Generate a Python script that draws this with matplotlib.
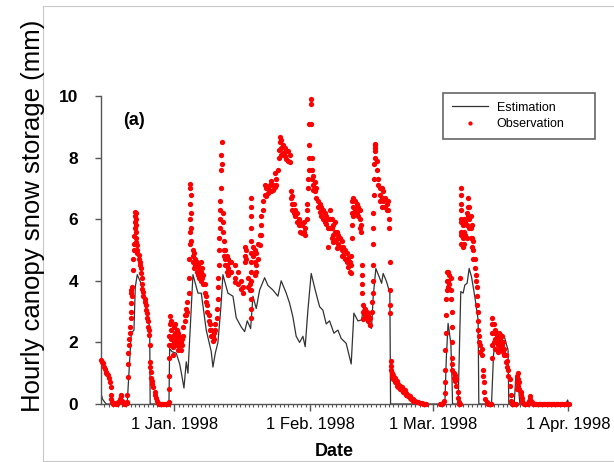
import numpy as np
import matplotlib.pyplot as plt
import matplotlib.dates as mdates
from matplotlib.patches import Rectangle
from datetime import datetime

plt.rcParams['font.family'] = ['Liberation Sans', 'DejaVu Sans']

# days counted from 1 Jan 1998 00:00
start_day = -16.85
end_day = 90.3

# estimated storage (line)
est_day = [-16.85, -16.7, -16.4, -15.6, -10.8, -10.2, -9.86, -9.25, -8.95, -8.5, -7.58, -6.44, -5.66, -5.55,
           -1.26, -1.1, -0.57, 0.41, 1.19, 1.71, 2.17, 2.69, 3.08, 4.22, 5.37, 6.12, 7.26, 8.4, 8.79, 9.32,
           9.93, 10.55, 11.07, 12.21, 13.36, 14.11, 15.25, 16.03, 16.62, 17.4, 17.92, 18.68, 19.45, 20.59,
           21.35, 22.49, 23.63, 24.38, 25.53, 26.3, 27.05, 27.8, 28.58, 29.34, 29.86, 30.48, 31.23, 32.15,
           33.15, 33.9, 34.66, 35.43, 36.42, 37.33, 38.08, 39.22, 40.37, 40.98, 41.9, 42.74, 43.33, 43.88,
           44.47, 45.02, 45.39, 46.0, 46.76, 47.31, 47.67, 48.45, 49.2, 49.36, 61.76, 62.1, 62.5, 63.13,
           63.4, 63.52, 64.79, 65.4, 65.94, 66.32, 66.85, 67.31, 67.85, 68.61, 69.36, 69.52, 72.42, 72.88,
           73.4, 73.93, 74.7, 75.46, 76.2, 76.37, 77.6, 77.97, 78.5, 78.9, 80.7, 81.16, 81.6, 89.4, 89.8, 90.1]
est_val = [0.25, 0.3, 0.15, 0, 0, 1.5, 2.3, 2.4, 3.8, 4.2, 3.9, 3.05, 2.5, 0,
           0, 1.8, 1.7, 1.65, 1.3, 0.9, 0.52, 1.37, 1.0, 4.2, 3.6, 3.6, 2.4, 1.7, 1.2, 1.65,
           2.0, 3.05, 4.2, 3.6, 3.5, 2.8, 2.5, 2.35, 2.7, 2.45, 3.5, 3.1, 3.7, 4.1,
           3.85, 3.7, 3.5, 4.0, 3.6, 3.27, 2.83, 2.2, 2.0, 2.2, 1.86, 3.05, 4.24, 3.7,
           3.16, 3.05, 2.6, 2.7, 2.3, 2.4, 2.13, 1.97, 1.3, 2.95, 2.7, 2.73, 3.27, 2.83,
           2.5, 2.46, 3.48, 4.4, 4.13, 3.92, 4.24, 3.97, 3.6, 0, 0, 1.5, 2.62, 1.97,
           0.8, 0, 0, 3.65, 3.6, 3.86, 3.92, 4.4, 4.13, 3.48, 2.73, 0, 0, 1.6,
           2.2, 2.13, 2.3, 2.13, 1.75, 0, 0, 0.89, 0.67, 0, 0, 0.26, 0, 0, 0.13, 0]

# observed storage (dots), several readings per time column
obs_dec_day = [-16.7, -16.5, -16.32, -16.1, -15.94, -15.7, -15.56, -15.3, -15.18, -14.95, -14.8, -14.6,
               -14.5, -14.42, -14.2, -14.0, -13.7, -13.4, -13.1, -12.8, -12.5, -12.3, -12.14, -12.0,
               -11.8, -11.5, -11.2, -10.9, -10.77, -10.62, -10.39, -10.24, -10.0, -9.86, -9.63, -9.47,
               -9.24, -9.09, -8.86, -8.71, -8.49, -8.18, -7.95, -7.72, -7.42, -7.11, -6.81, -6.58,
               -6.35, -6.05, -5.82, -5.67, -5.52, -5.29, -5.06, -4.83, -4.53, -4.3, -4.07, -3.77,
               -3.5, -3.2, -2.9, -2.6, -2.3, -2.0, -1.7, -1.48, -1.33, -1.18, -1.03, -0.72, -0.42, -0.11]
obs_dec_val = [[1.43], [1.38], [1.32], [1.2], [1.15], [1.05], [1.0], [0.98], [0.95], [0.85], [0.7], [0.55],
               [0.3], [0.15], [0.05], [0], [0.02], [0], [0], [0.05], [0.15], [0.3], [0.25], [0.1],
               [0.05], [0], [0], [0.02], [0.05, 0.3], [0.89, 1.3, 1.65], [1.9, 2.1], [2.3, 2.5], [2.8, 3.0],
               [3.27, 3.6, 3.7], [3.5, 3.8], [4.35, 4.7],
               [5.0, 5.2, 5.45], [5.7, 5.9, 6.1, 6.25], [6.2, 6.0, 5.8], [5.6, 5.4, 5.25], [5.15, 5.0, 4.9],
               [4.85, 4.7], [4.6, 4.5], [4.4, 4.25], [4.1, 3.9, 3.75], [3.65, 3.5], [3.4, 3.3], [3.2, 3.05],
               [2.95, 2.8], [2.7, 2.5], [2.4, 2.25], [1.9], [1.35, 1.2], [1.05, 0.85], [0.75, 0.65], [0.55],
               [0.4, 0.3], [0.2], [0.1], [0.02],
               [0], [0], [0], [0], [0], [0], [0], [0], [0.05, 0.5, 0.9], [1.5, 1.9, 2.2], [2.6, 2.85],
               [2.7, 2.4, 2.1, 1.9], [2.2, 1.85, 1.6], [2.5, 2.2, 2.0]]

obs_jan_day = [0.19, 0.5, 0.8, 1.11, 1.41, 1.71, 2.02, 2.32, 2.63, 2.93, 3.38, 3.61, 3.84, 4.14, 4.45,
               4.75, 5.06, 5.37, 5.67, 5.98, 6.28, 6.59, 6.89, 7.2, 7.5, 7.81, 8.11, 8.41, 8.72, 9.02,
               9.32, 9.63, 9.93, 10.24, 10.47, 10.69, 10.84, 11.07, 11.3, 11.6, 11.91, 12.21, 12.59,
               12.97, 13.73, 14.49, 15.25, 15.63, 16.02, 16.4, 16.78, 17.16, 17.54, 17.92, 18.3, 18.68,
               19.06, 19.44, 19.82, 20.2, 20.58, 20.96, 21.34, 21.72, 22.1, 22.48, 22.86, 23.24, 23.63,
               23.85, 24.16, 24.39, 24.77, 25.15, 25.53, 25.91, 26.29, 26.52, 26.82, 27.2, 27.58, 27.96,
               28.34, 28.72, 29.1, 29.48, 29.87, 30.17, 30.48, 30.78]
obs_jan_val = [[2.6, 2.3, 2.05], [2.4, 2.15, 1.9], [2.3, 2.0, 1.75], [2.2, 1.9], [2.0, 1.75], [2.1, 1.9],
               [2.5, 2.2], [2.9, 2.7], [3.1, 2.9], [3.3, 3.0], [3.6, 4.1, 4.7],
               [5.2, 5.6, 6.0, 6.5, 7.0, 7.15], [6.8, 6.2, 5.7, 5.3], [5.0, 4.8, 4.6], [4.9, 4.6, 4.4],
               [4.7, 4.5], [4.6, 4.3], [4.5, 4.2], [4.4, 4.1], [4.6, 4.3, 4.0], [4.4, 4.1], [4.2, 3.9],
               [3.9, 3.6], [3.5, 3.3], [3.2, 3.0], [2.9, 2.7], [2.6, 2.4], [2.4, 2.2], [2.2, 2.05],
               [2.1, 2.3], [2.4, 2.6], [2.8, 3.1], [3.4, 3.8, 4.1], [4.5, 5.0, 5.4], [5.7, 6.0, 6.3, 6.6],
               [7.0, 7.6, 8.1], [8.5, 7.8], [6.2, 5.9, 5.6], [5.3, 5.0, 4.8], [5.0, 4.7, 4.5],
               [4.8, 4.5, 4.3], [4.7, 4.4, 4.2], [4.6, 4.3],
               [4.6, 4.3], [4.5, 4.1, 3.95], [4.3, 3.9], [4.0, 3.75], [3.8, 3.6], [5.1, 4.8, 4.6],
               [5.0, 4.7], [4.1, 3.8], [3.9, 3.7],
               [2.8, 3.1, 3.4, 3.7, 4.0, 4.3, 4.6, 4.9, 5.3, 5.7, 6.1, 6.4, 6.7],
               [5.1, 4.8], [5.0, 4.6, 4.2], [4.9, 4.5, 4.3], [5.2, 4.7], [5.5, 5.15], [6.1, 5.8, 5.5],
               [6.6, 6.3], [7.1, 6.8], [7.0, 6.75], [7.0, 6.85], [7.1, 6.9], [7.25, 6.9], [7.1, 6.95],
               [7.5, 7.05], [7.3, 7.1], [7.6], [8.0, 8.25], [8.68, 8.5], [8.57, 8.3, 8.1], [8.4, 8.15],
               [8.3, 8.05], [8.2, 7.95], [8.2, 7.9], [8.1, 7.85], [6.9, 6.7], [6.75, 6.5, 6.3],
               [6.5, 6.2], [6.3, 6.1], [6.2, 5.9],
               [6.0, 5.8], [5.9, 5.6], [5.8, 5.55], [5.9, 5.6], [5.7, 5.5], [6.3, 6.5, 6.0], [7.0, 7.3],
               [7.6, 8.0, 8.4, 9.1]]

obs_feb_day = [31.08, 31.31, 31.62, 32.0, 32.38, 32.76, 33.14, 33.52, 33.9, 34.28, 34.66, 35.04, 35.5,
               35.88, 36.26, 36.64, 37.02, 37.4, 37.78, 38.16, 38.54, 38.92, 39.3, 39.69, 40.07, 40.3,
               40.52, 40.83, 41.21, 41.59, 41.97, 42.35, 42.65, 42.81, 43.11, 43.49, 43.87, 44.25, 44.63,
               45.01, 45.24, 45.39, 45.55, 45.7, 45.92, 46.23, 46.53, 46.91, 47.3, 47.68, 48.06, 48.44,
               48.82, 49.05, 49.2, 49.35, 49.66, 49.96, 50.34, 50.72, 51.1, 51.48, 51.86, 52.24, 52.62,
               53.0, 53.38, 53.76, 54.14, 54.53, 54.91, 55.29, 55.67, 56.05, 56.43, 56.81, 57.19, 57.5]
obs_feb_val = [[9.9, 9.75, 9.1], [8.0, 7.6, 7.3], [7.4, 7.1, 6.95], [7.2, 6.9], [7.0, 6.7], [6.6, 6.4],
               [6.5, 6.25], [6.4, 6.1], [6.3, 6.0], [6.2, 5.9], [6.1, 5.85], [6.0, 5.7, 5.1],
               [6.3, 6.0, 5.7], [6.0, 5.7, 5.4], [5.8, 5.5, 5.25], [5.9, 5.6, 5.3], [5.6, 5.35, 5.05],
               [5.5, 5.2], [5.4, 5.1], [5.3, 5.0, 4.8], [5.1, 4.85], [5.0, 4.7], [4.9, 4.6], [4.75, 4.45],
               [4.6, 4.3], [4.5, 4.25, 4.8], [5.4, 5.8, 6.2, 6.6], [6.7, 6.4, 6.1], [6.6, 6.3], [6.5, 6.2],
               [6.4, 6.1], [6.3, 6.0, 5.7], [5.6, 5.8], [4.5, 4.2, 3.9, 3.6], [3.2, 3.0, 2.75], [3.1, 2.9],
               [3.0, 2.8], [2.9, 2.7], [2.8, 2.55], [3.0, 3.3], [3.6, 4.0, 4.5, 5.2], [5.7, 6.2],
               [6.8, 7.3, 7.8], [8.2, 8.4], [8.45, 8.3, 8.0], [7.9, 7.6], [7.3, 7.1], [7.0, 6.8, 6.6],
               [7.0, 6.7, 6.4], [6.9, 6.6], [6.7, 6.4], [6.5, 6.3], [6.6, 6.3], [6.0, 5.7],
               [4.6, 3.7, 3.2, 2.95], [1.4, 1.25, 1.1], [1.0, 0.9], [0.95, 0.8], [0.85, 0.7], [0.75, 0.6],
               [0.65, 0.55], [0.6, 0.5], [0.55, 0.45], [0.5, 0.4], [0.45, 0.35], [0.35, 0.3], [0.3, 0.25],
               [0.25, 0.2], [0.2, 0.15], [0.15, 0.1], [0.1], [0.08], [0.05], [0.03], [0.02], [0], [0], [0]]

obs_mar_day = [60.6, 60.9, 61.14, 61.4, 61.6, 61.83, 62.06, 62.29, 62.51, 62.82, 63.12, 63.28, 63.5,
               63.81, 64.11, 64.42, 64.72, 64.95, 65.18, 65.41, 65.56, 65.86, 66.17, 66.47, 66.78, 67.08,
               67.39, 67.69, 68.0, 68.3, 68.6, 68.91, 69.14, 69.36, 69.59, 69.9, 70.2, 70.5, 70.73, 71.04,
               71.3, 71.49, 71.7, 71.95, 72.2, 72.41, 72.63, 72.94, 73.24, 73.55, 73.85, 74.16, 74.46,
               74.77, 75.07, 75.38, 75.68, 75.98, 76.29, 76.59, 76.9, 77.1, 77.35, 77.6, 77.81, 78.0,
               78.19, 78.5, 78.8, 79.1, 79.41, 79.65, 79.87, 80.1, 80.4, 80.65, 80.93, 81.23, 81.45,
               81.69, 82.0, 82.3, 82.6, 82.9, 83.2, 83.5, 83.8, 84.1, 84.4, 84.7, 85.0, 85.3, 85.6, 85.9,
               86.2, 86.5, 86.8, 87.1, 87.4, 87.7, 88.0, 88.3, 88.6, 88.9, 89.2, 89.5, 89.8, 90.1]
obs_mar_val = [[0], [0], [0], [0.02], [0.1], [0.35, 0.7, 1.1, 1.75], [2.3, 2.9, 3.4], [3.7, 4.0, 4.3],
               [4.3, 4.0, 3.8], [4.2, 3.9], [4.1, 3.7, 3.4], [3.0, 2.5, 2.0, 1.5], [1.3, 1.1], [1.0, 0.85],
               [0.95, 0.75], [0.8, 0.6], [0.4, 0.2], [0.05, 0], [4.1, 0], [5.2, 5.6, 6.0, 6.5, 7.0],
               [6.8, 6.3, 5.9, 5.5], [5.8, 5.4, 5.1], [6.0, 5.6, 5.2], [5.9, 5.5], [6.2, 5.8, 5.4],
               [6.7, 6.4, 6.1], [6.4, 6.0, 5.7], [6.1, 5.7, 5.4], [5.8, 5.4, 5.1], [5.3, 5.0, 4.7],
               [4.7, 4.4], [4.2, 4.0], [3.8, 3.5, 3.2], [3.0, 2.7, 2.4], [2.2, 2.0], [1.9, 1.7],
               [1.8, 1.6], [1.1, 0.9], [0.7, 0.4], [0.15], [0.02], [0.05], [0], [0], [0], [0],
               [1.5, 1.9, 2.3, 2.6, 2.8], [2.6, 2.3, 2.0], [2.4, 2.1, 1.8], [2.3, 2.0], [2.2, 1.9, 1.7],
               [2.3, 2.0], [2.1, 1.8], [2.2, 1.9], [2.0, 1.7], [1.8, 1.6], [1.6, 1.35], [1.4, 1.2],
               [1.1, 0.9], [0.8, 0.6], [0.3, 0.1], [0], [0], [0], [0], [0],
               [0.5, 0.7, 0.9], [1.0, 0.8, 0.6], [0.7, 0.5], [0.4, 0.3], [0.2, 0.1], [0.02], [0], [0],
               [0], [0], [0.1], [0.25, 0.15], [0.05],
               [0.05], [0], [0], [0], [0], [0], [0], [0], [0], [0], [0], [0], [0], [0], [0],
               [0], [0], [0], [0], [0], [0], [0], [0], [0], [0], [0], [0], [0], [0]]

labels = ['Estimation', 'Observation']

base = mdates.date2num(datetime(1998, 1, 1))
est_x = base + np.array(est_day)

obs_x, obs_v = [], []
for days, vals in [(obs_dec_day, obs_dec_val), (obs_jan_day, obs_jan_val),
                   (obs_feb_day, obs_feb_val), (obs_mar_day, obs_mar_val)]:
    for d, vs in zip(days, vals):
        for v in vs:
            obs_x.append(base + d)
            obs_v.append(v)

fig = plt.figure(figsize=(6.14, 4.62), dpi=100)
ax = fig.add_axes([0.164, 0.1255, 0.764, 0.6667])

ax.plot(est_x, est_val, color='#333333', lw=0.9, label=labels[0], zorder=2)
ax.plot(obs_x, obs_v, 'o', color='#ff0000', ms=3.8, mec='none', label=labels[1], zorder=3, clip_on=False)

ax.set_xlim(base + start_day, base + end_day)
ax.set_ylim(0, 10)
ax.set_yticks(np.arange(0, 11, 2))

ax.xaxis.set_major_locator(mdates.MonthLocator(bymonthday=1))
ax.xaxis.set_major_formatter(mdates.DateFormatter('1 %b. %Y'))
ax.xaxis.set_minor_locator(mdates.DayLocator())

for s in ['top', 'right']:
    ax.spines[s].set_visible(False)
for s in ['left', 'bottom']:
    ax.spines[s].set_color('#555555')
    ax.spines[s].set_linewidth(1.0)

ax.tick_params(axis='x', which='major', direction='out', length=5, width=1, color='#555555',
               labelsize=12, pad=4)
ax.tick_params(axis='x', which='minor', direction='out', length=2.2, width=0.8, color='#555555')
ax.tick_params(axis='y', which='major', direction='out', length=4, width=1, color='#555555',
               labelsize=12.5, pad=12)
for lab in ax.get_yticklabels():
    lab.set_fontweight('bold')

fig.text(0.054, 0.532, 'Hourly canopy snow storage (mm)', rotation=90, fontsize=18.5,
         ha='center', va='center')
fig.text(0.544, 0.022, 'Date', fontsize=13, fontweight='bold', ha='center', va='center')
fig.text(0.218, 0.740, '(a)', fontsize=13, fontweight='bold', ha='center', va='center')

leg = ax.legend(loc='upper left', bbox_to_anchor=(443 / 614, 1 - 141 / 462, 152 / 614, 48 / 462),
                bbox_transform=fig.transFigure, mode='expand', fontsize=9, handlelength=2.9,
                handletextpad=0.7, labelspacing=0.35, borderpad=0.7, borderaxespad=0,
                fancybox=False, framealpha=1, edgecolor='#666666', markerscale=0.8)
leg.get_frame().set_linewidth(1.2)

fig.patches.append(Rectangle((43 / 614, 1 / 462), 1.0, 455 / 462, transform=fig.transFigure,
                             fill=False, edgecolor='#c8c8c8', lw=0.8))

fig.savefig('out.png', dpi=100)
